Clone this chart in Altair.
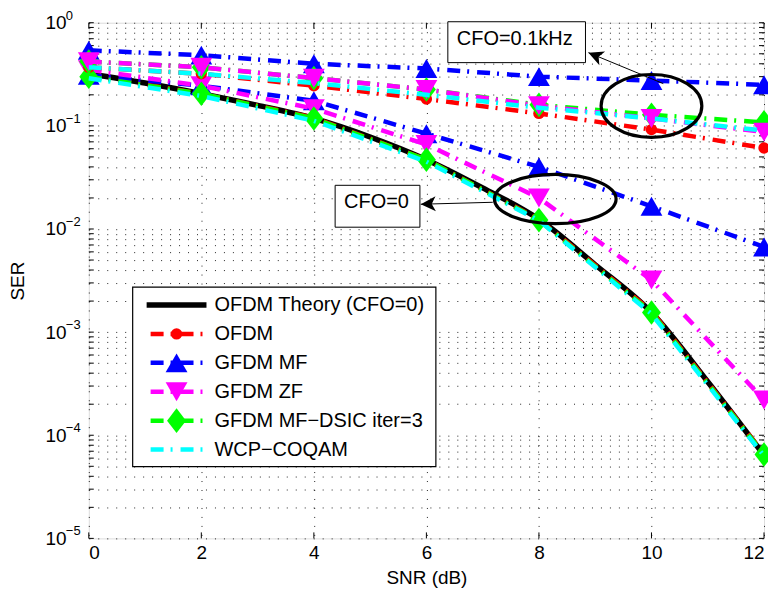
import altair as alt
import pandas as pd

# ---------------- data ----------------
snr = [0, 2, 4, 6, 8, 10, 12]
snr_theory = [0, 1, 2, 3, 4, 5, 6, 7, 8, 9, 10, 11, 12]
ser_theory = [0.32, 0.26, 0.205, 0.158, 0.118, 0.078, 0.047, 0.025, 0.0124, 0.0045, 0.00155, 0.00033, 0.000064]

ofdm_cfo0 = [0.31, 0.205, 0.12, 0.047, 0.0124, 0.0016, 0.000066]
ofdm_cfo01 = [0.37, 0.32, 0.245, 0.182, 0.132, 0.092, 0.061]
mf_cfo0 = [0.31, 0.245, 0.175, 0.084, 0.040, 0.0166, 0.0067]
mf_cfo01 = [0.54, 0.485, 0.40, 0.36, 0.30, 0.275, 0.25]
zf_cfo0 = [0.35, 0.245, 0.147, 0.066, 0.020, 0.0032, 0.00022]
zf_cfo01 = [0.42, 0.37, 0.29, 0.225, 0.157, 0.118, 0.087]
dsic_cfo0 = [0.30, 0.205, 0.118, 0.047, 0.0122, 0.00155, 0.000065]
dsic_cfo01 = [0.42, 0.37, 0.29, 0.225, 0.16, 0.128, 0.108]
wcp_cfo0 = [0.29, 0.195, 0.112, 0.045, 0.0121, 0.0015, 0.000063]
wcp_cfo01 = [0.37, 0.32, 0.26, 0.20, 0.15, 0.118, 0.09]

legend_names = ["OFDM Theory (CFO=0)", "OFDM", "GFDM MF", "GFDM ZF",
                "GFDM MF\u2212DSIC iter=3", "WCP\u2212COQAM"]
x_ticks = [0, 2, 4, 6, 8, 10, 12]
y_ticks = [m * 10.0 ** e for e in range(-5, 0) for m in range(1, 10)] + [1.0]
decades = [1.0, 0.1, 0.01, 0.001, 0.0001, 0.00001]
decade_exp = ["0", "\u22121", "\u22122", "\u22123", "\u22124", "\u22125"]

# ---------------- styling ----------------
W, H = 677, 517
FONT = "Liberation Sans"
DASH = [13, 7, 2, 8]
GRID_DASH = [1, 8]
DIAMOND = "M 0 -1.3 L 1 0 L 0 1.3 L -1 0 Z"
ARROW = "M 0 0 L 0.85 1.7 L 0 1.25 L -0.85 1.7 Z"


def ellipse_path(b):
    k = 0.5523
    kb = k * b
    return (f"M 1 0 C 1 {kb:.4f} {k} {b:.4f} 0 {b:.4f} "
            f"C {-k} {b:.4f} -1 {kb:.4f} -1 0 "
            f"C -1 {-kb:.4f} {-k} {-b:.4f} 0 {-b:.4f} "
            f"C {k} {-b:.4f} 1 {-kb:.4f} 1 0 Z")


xs = alt.Scale(domain=[0, 12], nice=False, zero=False)
ys = alt.Scale(type="log", domain=[1e-5, 1], nice=False)

label_expr = ("abs(log(datum.value)/LN10 - round(log(datum.value)/LN10)) < 1e-6 ? '10' : ''")

X = alt.X("snr:Q", scale=xs, axis=alt.Axis(
    values=x_ticks, format="d", grid=True, gridDash=GRID_DASH, gridColor="#000", gridOpacity=0.85,
    ticks=False, domain=False, labelFontSize=19, labelPadding=5, labelColor="#000",
    labelFont=FONT, title="SNR (dB)", titleFont=FONT, titleFontSize=19,
    titleFontWeight="normal", titleColor="#000", titleBaseline="middle", titleY=39))
Y = alt.Y("ser:Q", scale=ys, axis=alt.Axis(
    values=y_ticks, labelExpr=label_expr, grid=True, gridDash=GRID_DASH, gridColor="#000",
    gridOpacity=0.85, ticks=False, domain=False, labelFontSize=19, labelAlign="left",
    labelBaseline="middle", labelPadding=44, labelColor="#000", labelFont=FONT,
    title="SER", titleFont=FONT, titleFontSize=19, titleFontWeight="normal",
    titleColor="#000", titleX=-71, titleY=H / 2, titleBaseline="middle"))

layers = []

# axis frame (grid + labels) from an invisible layer
frame_df = pd.DataFrame({"snr": [0, 12], "ser": [1e-5, 1]})
layers.append(alt.Chart(frame_df).mark_point(opacity=0).encode(x=X, y=Y))

# exponents of the decade labels
exp_df = pd.DataFrame({"v": decades, "t": decade_exp})
layers.append(alt.Chart(exp_df).mark_text(font=FONT, fontSize=13, align="left", baseline="middle",
                                          dy=-7, color="#000").encode(
    y=alt.Y("v:Q", scale=ys), x=alt.value(-23), text="t:N"))

# inward ticks
ytick_df = pd.DataFrame({"v": y_ticks})
for xa, xb in [(0, 5), (W - 5, W)]:
    layers.append(alt.Chart(ytick_df).mark_rule(color="#000", strokeWidth=1).encode(
        y=alt.Y("v:Q", scale=ys), x=alt.value(xa), x2=alt.value(xb)))
xtick_df = pd.DataFrame({"v": x_ticks})
for ya, yb in [(H - 6, H), (0, 6)]:
    layers.append(alt.Chart(xtick_df).mark_rule(color="#000", strokeWidth=1).encode(
        x=alt.X("v:Q", scale=xs), y=alt.value(ya), y2=alt.value(yb)))

# theory curve
th_df = pd.DataFrame({"snr": snr_theory, "ser": ser_theory})
layers.append(alt.Chart(th_df).mark_line(color="#000", strokeWidth=5.5, interpolate="monotone").encode(
    x=alt.X("snr:Q", scale=xs), y=alt.Y("ser:Q", scale=ys)))

series = {
    "OFDM": ("#ff0000", "circle", 130, ofdm_cfo0, ofdm_cfo01),
    "GFDM MF": ("#0000ff", "triangle-up", 480, mf_cfo0, mf_cfo01),
    "GFDM ZF": ("#ff00ff", "triangle-down", 480, zf_cfo0, zf_cfo01),
    "GFDM MF-DSIC": ("#00ff00", DIAMOND, 361, dsic_cfo0, dsic_cfo01),
    "WCP-COQAM": ("#00ffff", None, 0, wcp_cfo0, wcp_cfo01),
}

# drawing order: CFO=0 group, then CFO=0.1kHz group
order = [(0, ["OFDM", "GFDM MF", "GFDM ZF", "GFDM MF-DSIC", "WCP-COQAM"]),
         (1, ["OFDM", "GFDM MF", "GFDM MF-DSIC", "GFDM ZF", "WCP-COQAM"])]
for grp, names in order:
    for name in names:
        col, shape, size, v0, v1 = series[name]
        vals = v0 if grp == 0 else v1
        df = pd.DataFrame({"snr": snr, "ser": vals})
        base = alt.Chart(df).encode(x=alt.X("snr:Q", scale=xs), y=alt.Y("ser:Q", scale=ys))
        layers.append(base.mark_line(color=col, strokeWidth=4.5, strokeDash=DASH))
        if shape:
            layers.append(base.mark_point(shape=shape, size=size, filled=True, color=col,
                                          opacity=1, strokeWidth=1))

# ellipses
ell_up = pd.DataFrame({"snr": [10.0], "ser": [0.156]})
ell_lo = pd.DataFrame({"snr": [8.29], "ser": [0.0195]})
layers.append(alt.Chart(ell_up).mark_point(shape=ellipse_path(0.624), size=10201, filled=False,
                                           color="#000", strokeWidth=3.2, opacity=1).encode(
    x=alt.X("snr:Q", scale=xs), y=alt.Y("ser:Q", scale=ys)))
layers.append(alt.Chart(ell_lo).mark_point(shape=ellipse_path(0.405), size=14884, filled=False,
                                           color="#000", strokeWidth=3.2, opacity=1).encode(
    x=alt.X("snr:Q", scale=xs), y=alt.Y("ser:Q", scale=ys)))

# arrows
arr_df = pd.DataFrame({
    "x0": [10.21, 7.18], "y0": [0.257, 0.01816],
    "x1": [8.88, 5.90], "y1": [0.513, 0.01738],
    "ang": [292.5, 268.4],
})
layers.append(alt.Chart(arr_df).mark_rule(color="#000", strokeWidth=1).encode(
    x=alt.X("x0:Q", scale=xs), y=alt.Y("y0:Q", scale=ys),
    x2="x1:Q", y2="y1:Q"))
layers.append(alt.Chart(arr_df).mark_point(shape=ARROW, size=310, filled=True, color="#000",
                                           opacity=1).encode(
    x=alt.X("x1:Q", scale=xs), y=alt.Y("y1:Q", scale=ys),
    angle=alt.Angle("ang:Q", scale=None)))

# text boxes
box_df = pd.DataFrame({"x": [360, 247], "x2": [498, 332], "y": [-1, 163], "y2": [40, 205],
                       "tx": [369, 256], "ty": [16, 180], "t": ["CFO=0.1kHz", "CFO=0"]})
for i in range(2):
    r = box_df.iloc[i]
    layers.append(alt.Chart(pd.DataFrame({"t": [r.t]})).mark_rect(
        fill="#fff", stroke="#000", strokeWidth=1).encode(
        x=alt.value(float(r.x)), x2=alt.value(float(r.x2)),
        y=alt.value(float(r.y)), y2=alt.value(float(r.y2))))
    layers.append(alt.Chart(pd.DataFrame({"t": [r.t]})).mark_text(
        font=FONT, fontSize=20, align="left", baseline="middle", color="#000").encode(
        text="t:N", x=alt.value(float(r.tx)), y=alt.value(float(r.ty))))

# legend
LX0, LX1, LY0, LY1 = 44, 348, 265, 445
layers.append(alt.Chart(pd.DataFrame({"a": [0]})).mark_rect(
    fill="#fff", stroke="#000", strokeWidth=1.2).encode(
    x=alt.value(LX0), x2=alt.value(LX1), y=alt.value(LY0), y2=alt.value(LY1)))

leg_styles = [
    ("#000", None, 0, None),
    ("#ff0000", "circle", 130, DASH),
    ("#0000ff", "triangle-up", 480, DASH),
    ("#ff00ff", "triangle-down", 480, DASH),
    ("#00ff00", DIAMOND, 361, DASH),
    ("#00ffff", None, 0, DASH),
]
for i, (name, (col, shape, size, dash)) in enumerate(zip(legend_names, leg_styles)):
    yy = 283 + 29 * i
    one = pd.DataFrame({"t": [name]})
    if dash is None:
        layers.append(alt.Chart(one).mark_rule(color=col, strokeWidth=5.5).encode(
            x=alt.value(58), x2=alt.value(118), y=alt.value(yy)))
    else:
        layers.append(alt.Chart(one).mark_rule(color=col, strokeWidth=4.5, strokeDash=dash,
                                               strokeDashOffset=-4).encode(
            x=alt.value(58), x2=alt.value(118), y=alt.value(yy)))
    if shape:
        layers.append(alt.Chart(one).mark_point(shape=shape, size=size, filled=True, color=col,
                                                opacity=1).encode(
            x=alt.value(88), y=alt.value(yy)))
    layers.append(alt.Chart(one).mark_text(font=FONT, fontSize=20, align="left",
                                           baseline="middle", color="#000").encode(
        text="t:N", x=alt.value(126), y=alt.value(yy)))

chart = alt.layer(*layers).properties(
    width=W, height=H,
    autosize=alt.AutoSizeParams(type="none"),
    padding={"left": 81, "top": 14, "right": 4, "bottom": 56},
).configure_view(stroke="#000", strokeWidth=1.2).configure(background="#fff")

chart.save("out.html", embed_options={"renderer": "svg", "actions": False})
